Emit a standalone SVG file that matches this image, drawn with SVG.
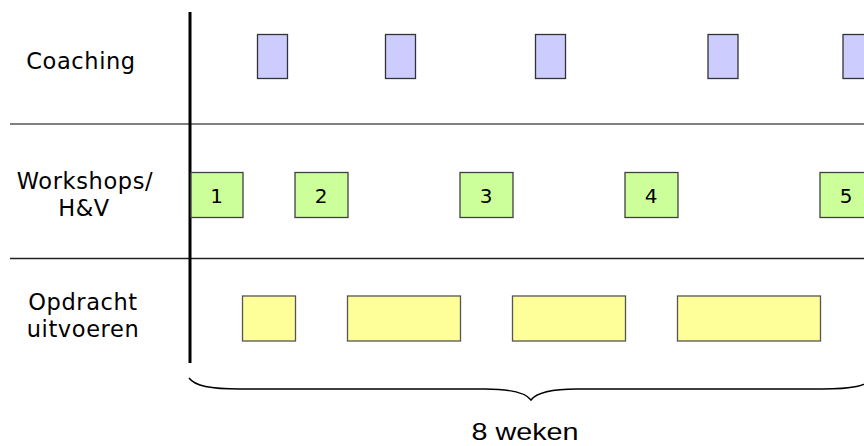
<svg xmlns="http://www.w3.org/2000/svg" width="864" height="446" viewBox="0 0 864 446">
<style>
.lbl{font-family:"DejaVu Sans",Verdana,sans-serif;font-size:22.5px;letter-spacing:0.6px;fill:#000;text-anchor:middle}
.num{font-family:"DejaVu Sans",Verdana,sans-serif;font-size:20px;fill:#000;text-anchor:middle}
.coach{fill:#CCCCFF;stroke:#333;stroke-width:1.3}
.ws{fill:#CCFF99;stroke:#404040;stroke-width:1.3}
.op{fill:#FFFF99;stroke:#555;stroke-width:1.3}
</style>
<rect width="864" height="446" fill="#fff"/>
<g id="grid">
<line x1="10" y1="124" x2="864" y2="124" stroke="#808080" stroke-width="2"/>
<line x1="10" y1="258.5" x2="864" y2="258.5" stroke="#222" stroke-width="1.3"/>
<line x1="190" y1="12" x2="190" y2="363" stroke="#000" stroke-width="3"/>
</g>
<g id="labels">
<text class="lbl" x="81" y="69">Coaching</text>
<text class="lbl" x="85" y="189">Workshops/</text>
<text class="lbl" x="84" y="216">H&amp;V</text>
<text class="lbl" x="83" y="310">Opdracht</text>
<text class="lbl" x="83" y="337">uitvoeren</text>
</g>
<g id="coaching">
<rect class="coach" x="257.5" y="34.5" width="30" height="44"/>
<rect class="coach" x="385.5" y="34.5" width="30" height="44"/>
<rect class="coach" x="535.5" y="34.5" width="30" height="44"/>
<rect class="coach" x="708" y="34.5" width="30" height="44"/>
<rect class="coach" x="843" y="34.5" width="30" height="44"/>
</g>
<g id="ws1"><rect class="ws" x="191" y="172.5" width="52" height="45"/><text class="num" x="216.5" y="203">1</text></g>
<g id="ws2"><rect class="ws" x="295" y="172.5" width="53" height="45"/><text class="num" x="321" y="203">2</text></g>
<g id="ws3"><rect class="ws" x="460" y="172.5" width="53" height="45"/><text class="num" x="486" y="203">3</text></g>
<g id="ws4"><rect class="ws" x="625" y="172.5" width="53" height="45"/><text class="num" x="651" y="203">4</text></g>
<g id="ws5"><rect class="ws" x="820" y="172.5" width="53" height="45"/><text class="num" x="846" y="203">5</text></g>
<g id="opdracht">
<rect class="op" x="242.5" y="296" width="53" height="45"/>
<rect class="op" x="347.5" y="296" width="113" height="45"/>
<rect class="op" x="512.5" y="296" width="113" height="45"/>
<rect class="op" x="677.5" y="296" width="143" height="45"/>
</g>
<g id="brace">
<path d="M189,378 C195,386 210,389 240,389 L485,389 C510,389 525,392 531,400 C537,392 552,389 577,389 L822,389 C852,389 867,386 873,378" fill="none" stroke="#000" stroke-width="1.5"/>
<text x="525" y="440" font-family="'Liberation Sans',Arial,sans-serif" font-size="24" textLength="107" lengthAdjust="spacingAndGlyphs" text-anchor="middle">8 weken</text>
</g>
</svg>
